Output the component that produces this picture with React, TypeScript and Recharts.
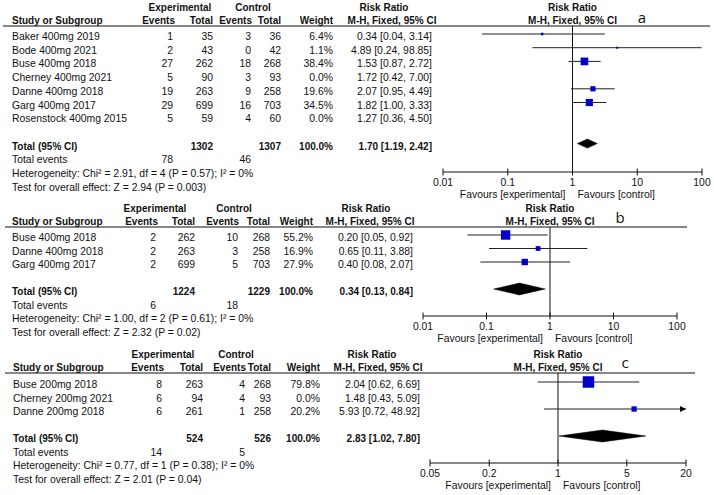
import React from 'react';
import { ComposedChart, XAxis, YAxis, Scatter, ReferenceLine, ReferenceArea, ReferenceDot } from 'recharts';

// panel a — 400mg, outcome 1
const namesA = ['Baker 400mg 2019', 'Bode 400mg 2021', 'Buse 400mg 2018', 'Cherney 400mg 2021', 'Danne 400mg 2018', 'Garg 400mg 2017', 'Rosenstock 400mg 2015'];
const expEventsA = [1, 2, 27, 5, 19, 29, 5];
const expTotalA = [35, 43, 262, 90, 263, 699, 59];
const ctlEventsA = [3, 0, 18, 3, 9, 16, 4];
const ctlTotalA = [36, 42, 268, 93, 258, 703, 60];
const weightA = [6.4, 1.1, 38.4, 0.0, 19.6, 34.5, 0.0];
const rrA = [0.34, 4.89, 1.53, 1.72, 2.07, 1.82, 1.27];
const loA = [0.04, 0.24, 0.87, 0.42, 0.95, 1.0, 0.36];
const hiA = [3.14, 98.85, 2.72, 7.0, 4.49, 3.33, 4.5];
const totalNA = [1302, 1307];
const totalEventsA = [78, 46];
const pooledA = [1.7, 1.19, 2.42];
const hetA = 'Heterogeneity: Chi² = 2.91, df = 4 (P = 0.57); I² = 0%';
const testA = 'Test for overall effect: Z = 2.94 (P = 0.003)';

// panel b — 400mg, outcome 2
const namesB = ['Buse 400mg 2018', 'Danne 400mg 2018', 'Garg 400mg 2017'];
const expEventsB = [2, 2, 2];
const expTotalB = [262, 263, 699];
const ctlEventsB = [10, 3, 5];
const ctlTotalB = [268, 258, 703];
const weightB = [55.2, 16.9, 27.9];
const rrB = [0.2, 0.65, 0.4];
const loB = [0.05, 0.11, 0.08];
const hiB = [0.92, 3.88, 2.07];
const totalNB = [1224, 1229];
const totalEventsB = [6, 18];
const pooledB = [0.34, 0.13, 0.84];
const hetB = 'Heterogeneity: Chi² = 1.00, df = 2 (P = 0.61); I² = 0%';
const testB = 'Test for overall effect: Z = 2.32 (P = 0.02)';

// panel c — 200mg
const namesC = ['Buse 200mg 2018', 'Cherney 200mg 2021', 'Danne 200mg 2018'];
const expEventsC = [8, 6, 6];
const expTotalC = [263, 94, 261];
const ctlEventsC = [4, 4, 1];
const ctlTotalC = [268, 93, 258];
const weightC = [79.8, 0.0, 20.2];
const rrC = [2.04, 1.48, 5.93];
const loC = [0.62, 0.43, 0.72];
const hiC = [6.69, 5.09, 48.92];
const totalNC = [524, 526];
const totalEventsC = [14, 5];
const pooledC = [2.83, 1.02, 7.8];
const hetC = 'Heterogeneity: Chi² = 0.77, df = 1 (P = 0.38); I² = 0%';
const testC = 'Test for overall effect: Z = 2.01 (P = 0.04)';

const ticksAB = [0.01, 0.1, 1, 10, 100];
const ticksC = [0.05, 0.2, 1, 5, 20];
const tags = ['a', 'b', 'c'];

const FONT = '"Liberation Sans", Arial, sans-serif';
const BLUE = '#0000c8';
const INK = '#111';

const panels = [
  { names: namesA, ee: expEventsA, et: expTotalA, ce: ctlEventsA, ct: ctlTotalA, w: weightA, rr: rrA, lo: loA, hi: hiA, totN: totalNA, totE: totalEventsA, pooled: pooledA, het: hetA, test: testA, ticks: ticksAB },
  { names: namesB, ee: expEventsB, et: expTotalB, ce: ctlEventsB, ct: ctlTotalB, w: weightB, rr: rrB, lo: loB, hi: hiB, totN: totalNB, totE: totalEventsB, pooled: pooledB, het: hetB, test: testB, ticks: ticksAB },
  { names: namesC, ee: expEventsC, et: expTotalC, ce: ctlEventsC, ct: ctlTotalC, w: weightC, rr: rrC, lo: loC, hi: hiC, totN: totalNC, totE: totalEventsC, pooled: pooledC, het: hetC, test: testC, ticks: ticksC },
];

// pixel layout per panel
const layouts = [
  { top: 0, height: 205, line: 26, axis: 172, left: 443, right: 702, y0: 34, step: 13.7, half: 0.33,
    cols: [12, 173, 213, 251, 281, 333, 432], exp: 180, ctl: 253, rrHead: 384, mh: 392, rule: [3, 710], tag: [642, 23] },
  { top: 200, height: 150, line: 227, axis: 316, left: 423, right: 677, y0: 235, step: 13.5, half: 0.44,
    cols: [12, 156, 195, 238, 270, 313, 413], exp: 155, ctl: 234, rrHead: 366, mh: 370, rule: [5, 687], tag: [620, 223] },
  { top: 345, height: 150, line: 373, axis: 463, left: 430, right: 686, y0: 382, step: 13.5, half: 0.44,
    cols: [13, 162, 203, 245, 271, 320, 420], exp: 163, ctl: 236, rrHead: 372, mh: 378, rule: [5, 695], tag: [625, 368] },
];

const fmtRR = (r: number, l: number, h: number) => `${r.toFixed(2)} [${l.toFixed(2)}, ${h.toFixed(2)}]`;

const AxisTick = (props: any) => {
  const { x, y, payload } = props;
  return (
    <g>
      <line x1={x} x2={x} y1={y - 3.5} y2={y + 3.5} stroke={INK} />
      <text x={x} y={y + 14} textAnchor="middle" fontFamily={FONT} fontSize={10.4} fill={INK}>{payload.value}</text>
    </g>
  );
};

const Square = (props: any) => {
  const { cx, cy, payload } = props;
  const s = Math.max(2, 1.4 * Math.sqrt(payload.w) - 1);
  return <rect x={cx - s / 2} y={cy - s / 2} width={s} height={s} fill={BLUE} />;
};

const Diamond = (props: any) => {
  const { x, y, width, height } = props;
  const pts = `${x},${y + height / 2} ${x + width / 2},${y} ${x + width},${y + height / 2} ${x + width / 2},${y + height}`;
  return <polygon points={pts} fill="#000" stroke="#000" strokeWidth={0.5} />;
};

const Arrow = (props: any) => {
  const { cx, cy } = props;
  return <polygon points={`${cx - 6},${cy - 3} ${cx},${cy} ${cx - 6},${cy + 3}`} fill="#000" />;
};

function Forest({ p, L }: { p: any; L: any }) {
  const n = p.names.length;
  const dom = [p.ticks[0], p.ticks[p.ticks.length - 1]];
  const yMin = (L.line - L.y0) / L.step;
  const yMax = (L.axis - L.y0) / L.step;
  const rows = p.names.map((_: string, i: number) => i).filter((i: number) => p.w[i] > 0);
  const pts = rows.map((i: number) => ({ x: p.rr[i], y: i, w: p.w[i] }));
  const pr = n + 1;
  return (
    <div style={{ position: 'absolute', left: 0, top: L.top }}>
      <ComposedChart
        width={714}
        height={L.height}
        margin={{ top: L.line - L.top, right: 714 - L.right, left: L.left, bottom: L.height - (L.axis - L.top) - 30 }}
      >
        <XAxis type="number" dataKey="x" scale="log" domain={dom} ticks={p.ticks} interval={0} allowDataOverflow
          height={30} tickLine={false} tickSize={0} tickMargin={0} stroke={INK} tick={<AxisTick />} />
        <YAxis type="number" dataKey="y" domain={[yMin, yMax]} reversed hide allowDataOverflow />
        <ReferenceLine x={1} stroke={INK} strokeWidth={1} />
        {rows.map((i: number) => (
          <ReferenceLine key={'ci' + i} ifOverflow="visible" stroke="#222" strokeWidth={1}
            segment={[{ x: Math.max(p.lo[i], dom[0]), y: i }, { x: Math.min(p.hi[i], dom[1]), y: i }]} />
        ))}
        {rows.filter((i: number) => p.hi[i] > dom[1]).map((i: number) => (
          <ReferenceDot key={'ar' + i} x={dom[1]} y={i} ifOverflow="visible" shape={<Arrow />} />
        ))}
        <Scatter data={pts} dataKey="y" shape={<Square />} isAnimationActive={false} />
        <ReferenceArea x1={p.pooled[1]} x2={p.pooled[2]} y1={pr - L.half} y2={pr + L.half} ifOverflow="visible" shape={<Diamond />} />
      </ComposedChart>
    </div>
  );
}

function Table({ p, L, tag }: { p: any; L: any; tag: string }) {
  const n = p.names.length;
  const c = L.cols;
  const ty = (r: number) => L.y0 + r * L.step + 6;
  const lmin = Math.log10(p.ticks[0]);
  const lmax = Math.log10(p.ticks[p.ticks.length - 1]);
  const xOne = L.left + ((L.right - L.left) * (0 - lmin)) / (lmax - lmin);
  const h1 = L.line - 15;
  const h2 = L.line - 2;
  const B = { fontWeight: 700, fontSize: 10 } as const;
  return (
    <g>
      <text x={L.exp} y={h1} textAnchor="middle" {...B}>Experimental</text>
      <text x={L.ctl} y={h1} textAnchor="middle" {...B}>Control</text>
      <text x={L.rrHead} y={h1} textAnchor="middle" {...B}>Risk Ratio</text>
      <text x={xOne} y={h1} textAnchor="middle" {...B}>Risk Ratio</text>
      <text x={c[0]} y={h2} {...B}>Study or Subgroup</text>
      <text x={c[1] + 2} y={h2} textAnchor="end" {...B}>Events</text>
      <text x={c[2]} y={h2} textAnchor="end" {...B}>Total</text>
      <text x={c[3] + 1} y={h2} textAnchor="end" {...B}>Events</text>
      <text x={c[4]} y={h2} textAnchor="end" {...B}>Total</text>
      <text x={c[5]} y={h2} textAnchor="end" {...B}>Weight</text>
      <text x={L.mh} y={h2} textAnchor="middle" {...B}>M-H, Fixed, 95% CI</text>
      <text x={xOne} y={h2} textAnchor="middle" {...B}>M-H, Fixed, 95% CI</text>
      <line x1={L.rule[0]} x2={L.rule[1]} y1={L.line} y2={L.line} stroke={INK} strokeWidth={1.2} />
      <text x={L.tag[0]} y={L.tag[1]} textAnchor="middle" fontSize={15} fontWeight={400} fontFamily='"Open Sans", "Liberation Sans", sans-serif'>{tag}</text>

      {p.names.map((name: string, i: number) => (
        <g key={name}>
          <text x={c[0]} y={ty(i)}>{name}</text>
          <text x={c[1]} y={ty(i)} textAnchor="end">{p.ee[i]}</text>
          <text x={c[2]} y={ty(i)} textAnchor="end">{p.et[i]}</text>
          <text x={c[3]} y={ty(i)} textAnchor="end">{p.ce[i]}</text>
          <text x={c[4]} y={ty(i)} textAnchor="end">{p.ct[i]}</text>
          <text x={c[5]} y={ty(i)} textAnchor="end">{p.w[i].toFixed(1)}%</text>
          <text x={c[6]} y={ty(i)} textAnchor="end">{fmtRR(p.rr[i], p.lo[i], p.hi[i])}</text>
        </g>
      ))}

      <text x={c[0]} y={ty(n + 1)} {...B}>Total (95% CI)</text>
      <text x={c[2]} y={ty(n + 1)} textAnchor="end" {...B}>{p.totN[0]}</text>
      <text x={c[4]} y={ty(n + 1)} textAnchor="end" {...B}>{p.totN[1]}</text>
      <text x={c[5]} y={ty(n + 1)} textAnchor="end" {...B}>100.0%</text>
      <text x={c[6]} y={ty(n + 1)} textAnchor="end" {...B}>{fmtRR(p.pooled[0], p.pooled[1], p.pooled[2])}</text>
      <text x={c[0]} y={ty(n + 2)}>Total events</text>
      <text x={c[1]} y={ty(n + 2)} textAnchor="end">{p.totE[0]}</text>
      <text x={c[3]} y={ty(n + 2)} textAnchor="end">{p.totE[1]}</text>
      <text x={c[0]} y={ty(n + 3)}>{p.het}</text>
      <text x={c[0]} y={ty(n + 4)}>{p.test}</text>

      <text x={xOne - 7} y={L.axis + 25.5} textAnchor="end">Favours [experimental]</text>
      <text x={xOne + 5} y={L.axis + 25.5}>Favours [control]</text>
    </g>
  );
}

export default function App() {
  return (
    <div style={{ position: 'absolute', left: 0, top: 0, width: 714, height: 495, background: '#fff', overflow: 'hidden' }}>
      {panels.map((p, k) => <Forest key={k} p={p} L={layouts[k]} />)}
      <svg width={714} height={495} style={{ position: 'absolute', left: 0, top: 0, pointerEvents: 'none' }}
        fontFamily={FONT} fontSize={10.4} fill={INK}>
        {panels.map((p, k) => <Table key={k} p={p} L={layouts[k]} tag={tags[k]} />)}
      </svg>
    </div>
  );
}
